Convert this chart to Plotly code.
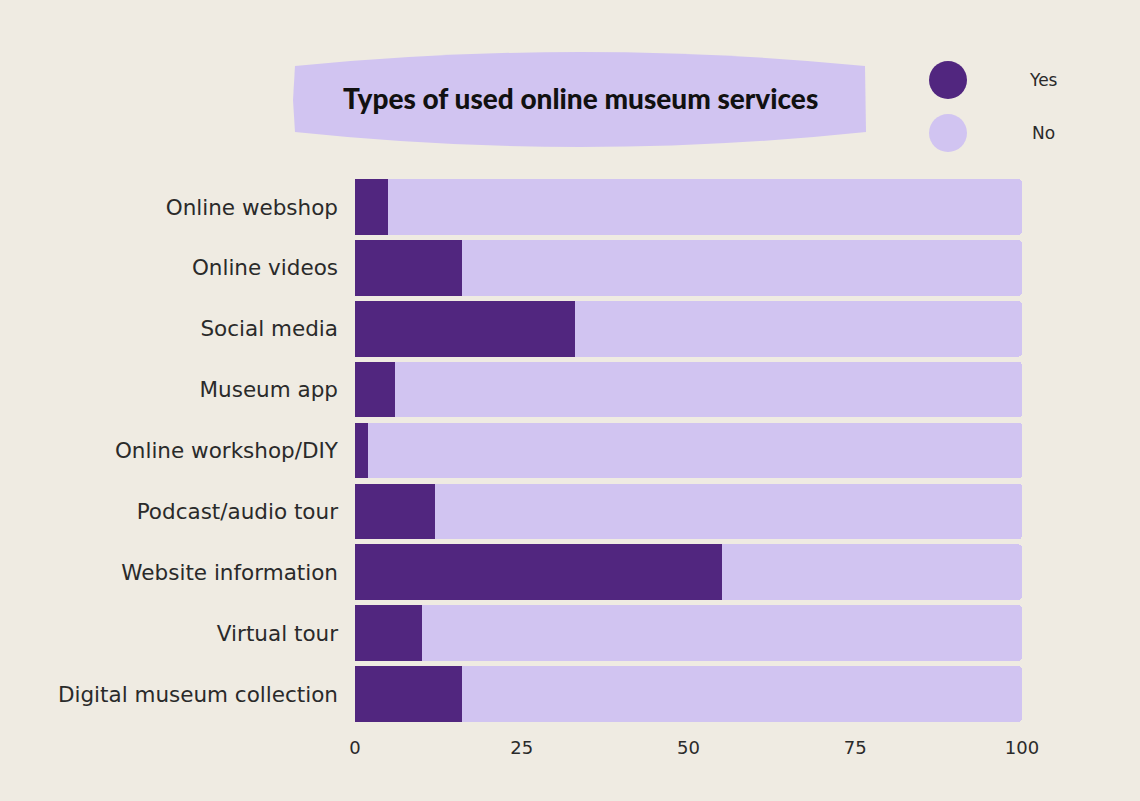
import plotly.graph_objects as go

categories = ["Online webshop", "Online videos", "Social media", "Museum app",
              "Online workshop/DIY", "Podcast/audio tour", "Website information",
              "Virtual tour", "Digital museum collection"]
yes_vals = [5, 16, 33, 6, 2, 12, 55, 10, 16]
no_vals = [100 - v for v in yes_vals]
x_ticks = [0, 25, 50, 75, 100]
legend_labels = ["Yes", "No"]
title_text = "Types of used online museum services"

W, H = 1140, 801
L, R, T, B = 355, 1022, 179, 722
DARK = "#51267f"
LIGHT = "#d1c4f1"
BG = "#efebe2"
TXT = "#2a2a2a"
FONT = "DejaVu Sans"

def px(x):
    return (x - L) / (R - L)

def py(y):
    return (B - y) / (B - T)

fig = go.Figure()
fig.add_trace(go.Bar(y=categories, x=yes_vals, orientation="h", marker_color=DARK,
                     marker_line_width=0, name=legend_labels[0], showlegend=False))
fig.add_trace(go.Bar(y=categories, x=no_vals, orientation="h", marker_color=LIGHT,
                     marker_line_width=0, name=legend_labels[1], showlegend=False))

shapes = []
# title banner
path = (f"M {px(295)},{py(66)} Q {px(580)},{py(38)} {px(865)},{py(66)} "
        f"L {px(866)},{py(132)} Q {px(580)},{py(162)} {px(295)},{py(132)} "
        f"L {px(293)},{py(100)} Z")
shapes.append(dict(type="path", path=path, xref="paper", yref="paper",
                   fillcolor=LIGHT, line=dict(width=0), layer="below"))
# legend circles
for cy, col in [(80, DARK), (133, LIGHT)]:
    r = 19
    shapes.append(dict(type="circle", xref="paper", yref="paper",
                       x0=px(948 - r), x1=px(948 + r), y0=py(cy + r), y1=py(cy - r),
                       fillcolor=col, line=dict(width=0)))

annotations = [
    dict(text=title_text, x=px(580), y=py(98), xref="paper", yref="paper",
         showarrow=False, font=dict(family="Lato", size=28, color="#111111", weight=900),
         xanchor="center", yanchor="middle"),
]
for cy, lab in [(80, legend_labels[0]), (133, legend_labels[1])]:
    annotations.append(dict(text=lab, x=px(1043), y=py(cy), xref="paper", yref="paper",
                            showarrow=False, font=dict(family=FONT, size=17, color=TXT),
                            xanchor="center", yanchor="middle"))

fig.update_layout(
    width=W, height=H,
    margin=dict(l=L, r=W - R, t=T, b=H - B, pad=0),
    paper_bgcolor=BG, plot_bgcolor=BG,
    barmode="stack", bargap=0.085, barcornerradius=4,
    shapes=shapes, annotations=annotations,
    xaxis=dict(range=[0, 100], tickvals=x_ticks, showgrid=False, zeroline=False,
               showline=False, ticks="", ticklabelstandoff=13,
               tickfont=dict(family=FONT, size=18, color=TXT), fixedrange=True),
    yaxis=dict(autorange=False, range=[8.46, -0.46], showgrid=False, zeroline=False,
               showline=False, ticks="", ticklabelstandoff=16,
               tickfont=dict(family=FONT, size=21.5, color=TXT), fixedrange=True),
)

fig.write_html("out.html", config={"displayModeBar": False})
